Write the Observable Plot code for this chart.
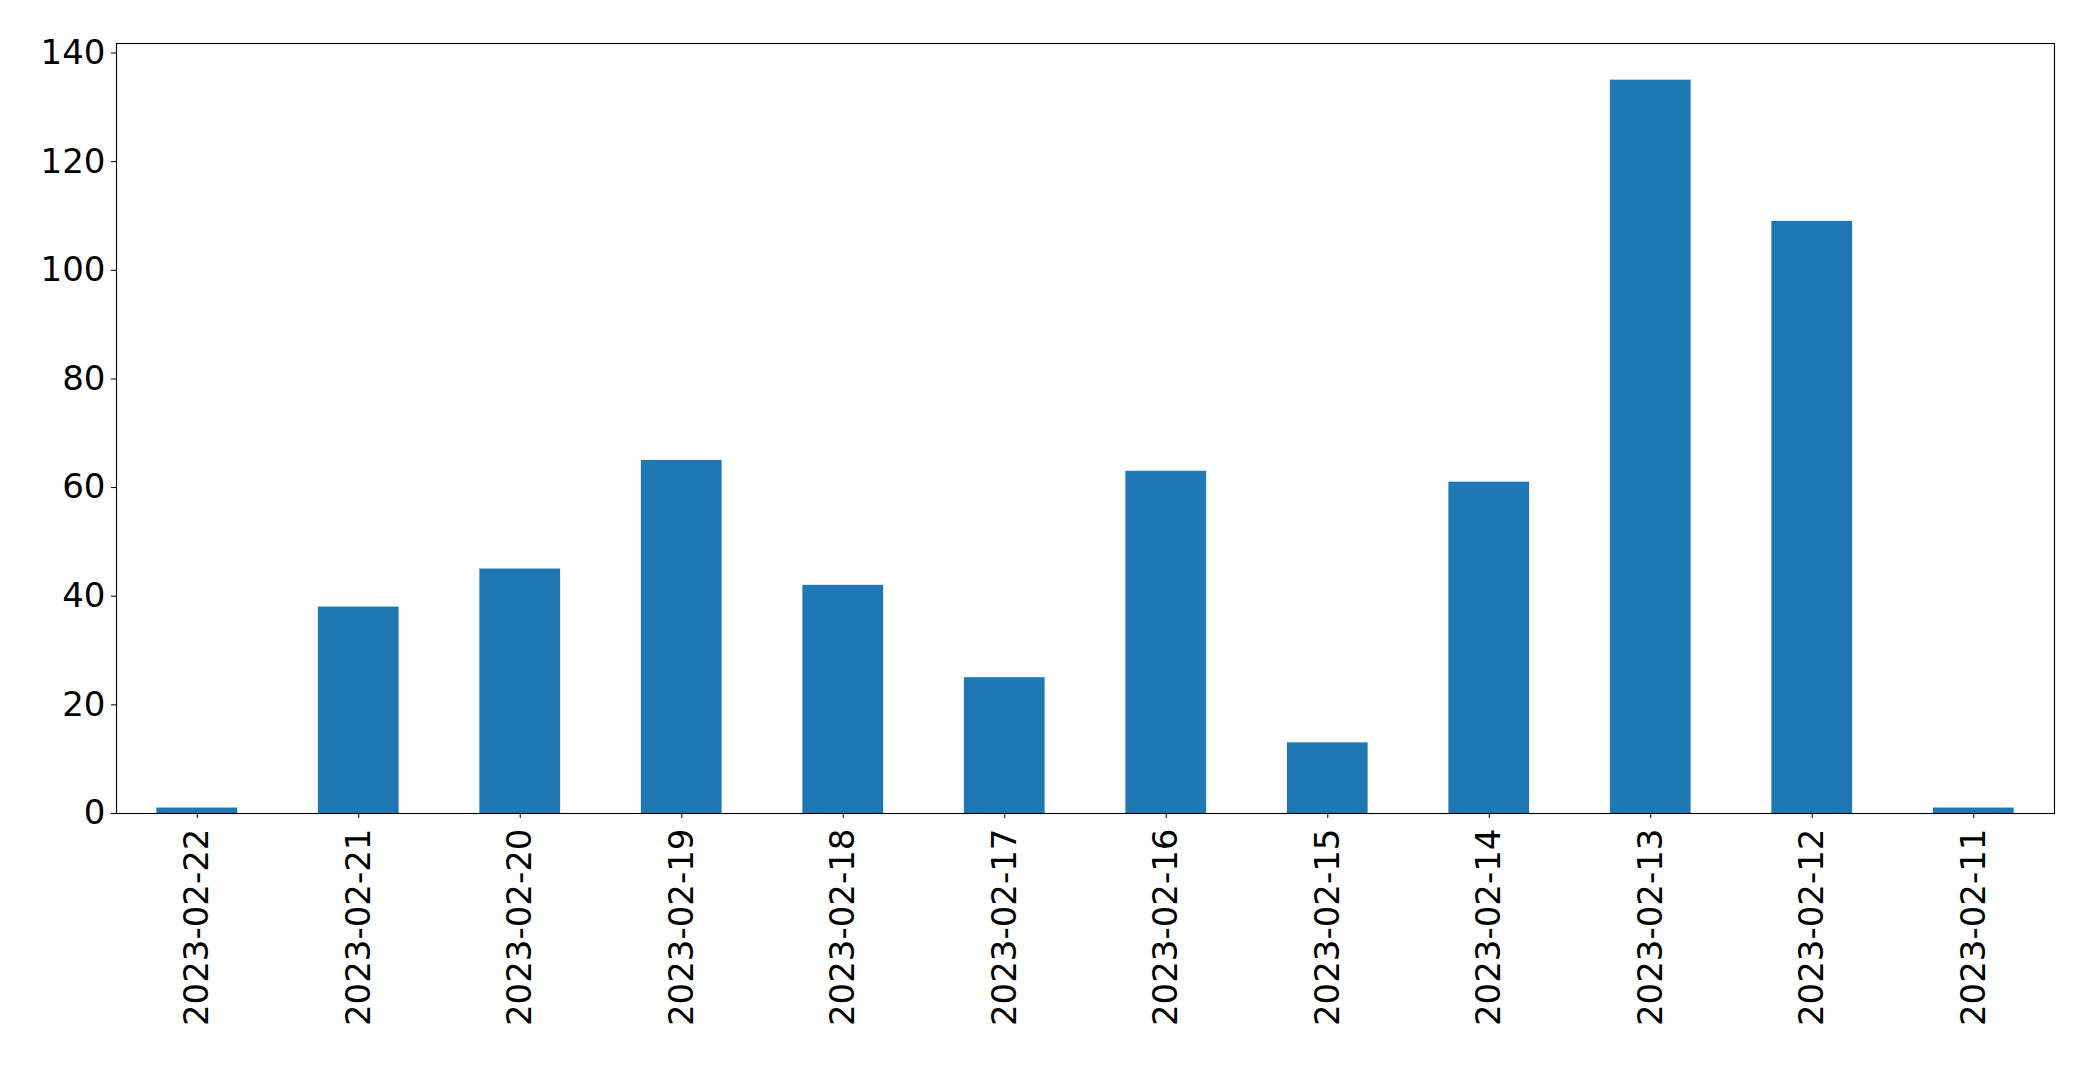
<!DOCTYPE html>
<html>
<head>
<meta charset="utf-8">
<script src="https://cdn.jsdelivr.net/npm/d3@7"></script>
<script src="https://cdn.jsdelivr.net/npm/@observablehq/plot@0.6"></script>
<style>
  html, body { margin: 0; padding: 0; background: #fff; }
  #chart svg { display: block; }
</style>
</head>
<body>
<div id="chart"></div>
<script>
const dates = ["2023-02-22","2023-02-21","2023-02-20","2023-02-19","2023-02-18","2023-02-17","2023-02-16","2023-02-15","2023-02-14","2023-02-13","2023-02-12","2023-02-11"];
const counts = [1, 38, 45, 65, 42, 25, 63, 13, 61, 135, 109, 1];
const yTicks = [0, 20, 40, 60, 80, 100, 120, 140];

const data = dates.map((d, i) => ({date: d, count: counts[i]}));

const chart = Plot.plot({
  width: 2093,
  height: 1065,
  marginLeft: 116,
  marginRight: 39,
  marginTop: 43,
  marginBottom: 252,
  style: {fontFamily: "'DejaVu Sans', sans-serif", fontSize: "34px", color: "#000", background: "#fff"},
  x: {type: "band", domain: dates, paddingInner: 0.5, paddingOuter: 0.25, align: 0.5, round: false},
  y: {domain: [0, d3.max(counts) * 1.05]},
  marks: [
    Plot.barY(data, {x: "date", y: "count", fill: "#1f77b4"}),
    Plot.axisY({ticks: yTicks, tickSize: 5, tickPadding: 6, label: null, fontSize: 34, stroke: "#000", strokeOpacity: 1, fill: "#000"}),
    Plot.axisX({tickSize: 5, tickPadding: 10, tickRotate: -90, textAnchor: "end", lineAnchor: "middle", label: null, fontSize: 34, stroke: "#000", strokeOpacity: 1, fill: "#000"}),
    Plot.frame({stroke: "#000", strokeWidth: 1.1})
  ]
});
document.getElementById("chart").appendChild(chart);
</script>
</body>
</html>
